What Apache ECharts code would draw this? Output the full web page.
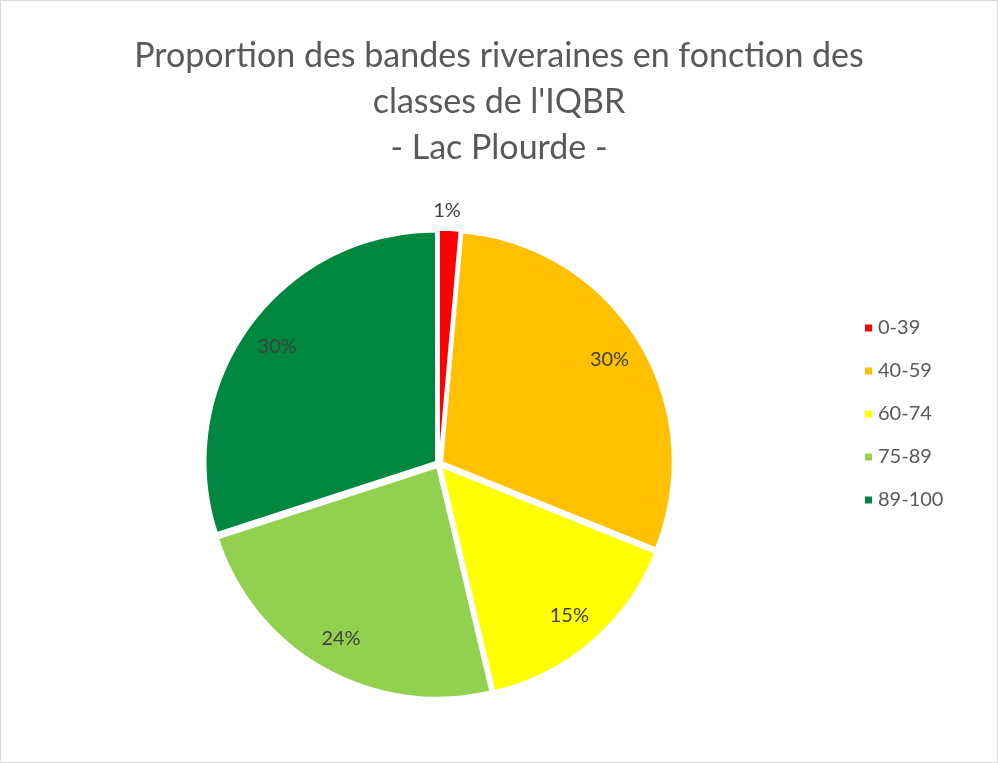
<!DOCTYPE html>
<html>
<head>
<meta charset="utf-8">
<title>Lac Plourde - IQBR</title>
<script src="https://cdn.jsdelivr.net/npm/echarts@6/dist/echarts.min.js"></script>
<style>
    html, body { margin: 0; padding: 0; background: #fff; }
    #chart { width: 998px; height: 763px; box-sizing: border-box; border: 1px solid #d9d9d9; }
</style>
</head>
<body>
<div id="chart"></div>
<script>
// classes de l'IQBR et proportion (%) des bandes riveraines
var classes = ['0-39', '40-59', '60-74', '75-89', '89-100'];
var valeurs = [1.4, 29.7, 15.2, 23.7, 30.0];
var couleurs = ['#FF0000', '#FFC000', '#FFFF00', '#92D050', '#00873F'];

var police = 'Lato';
var myChart = echarts.init(document.getElementById('chart'));

var donnees = classes.map(function (c, i) {
    return { name: c, value: valeurs[i], selected: true, itemStyle: { color: couleurs[i] } };
});

option = {
    animation: false,
    title: {
        text: "Proportion des bandes riveraines en fonction des\nclasses de l'IQBR\n- Lac Plourde -",
        left: 'center',
        top: 27,
        textStyle: {
            fontFamily: police,
            fontSize: 34,
            fontWeight: 'normal',
            color: '#595959',
            lineHeight: 46
        }
    },
    legend: {
        orient: 'vertical',
        left: 857,
        top: 312,
        itemWidth: 9,
        itemHeight: 9,
        itemGap: 23,
        icon: 'rect',
        selectedMode: false,
        data: classes,
        textStyle: { fontFamily: police, fontSize: 20, color: '#595959' }
    },
    series: [
        {
            // secteurs
            name: 'IQBR',
            type: 'pie',
            center: [438, 463],
            radius: [0, 230],
            startAngle: 90,
            clockwise: true,
            selectedMode: 'multiple',
            selectedOffset: 4,
            avoidLabelOverlap: false,
            itemStyle: { borderColor: '#fff', borderWidth: 1.5 },
            label: { show: false },
            labelLine: { show: false },
            emphasis: { disabled: true },
            // petite part : étiquette à l'extérieur, centrée au-dessus
            labelLayout: function (params) {
                return params.dataIndex === 0 ? { dx: -17 } : {};
            },
            data: donnees.map(function (d, i) {
                if (i === 0) {
                    d = Object.assign({}, d, {
                        label: {
                            show: true,
                            position: 'outside',
                            formatter: function (p) { return Math.round(p.value) + '%'; },
                            fontFamily: police,
                            fontSize: 20,
                            color: '#404040',
                            distanceToLabelLine: 0
                        },
                        labelLine: { show: false, length: 20, length2: 0 }
                    });
                }
                return d;
            })
        },
        {
            // étiquettes intérieures
            name: 'etiquettes',
            type: 'pie',
            center: [438, 463],
            radius: [164, 230],
            startAngle: 90,
            clockwise: true,
            silent: true,
            avoidLabelOverlap: false,
            itemStyle: { color: 'transparent' },
            label: {
                show: true,
                position: 'inside',
                formatter: function (p) { return p.dataIndex === 0 ? '' : Math.round(p.value) + '%'; },
                fontFamily: police,
                fontSize: 20,
                color: '#404040'
            },
            labelLine: { show: false },
            data: classes.map(function (c, i) { return { name: c, value: valeurs[i] }; })
        }
    ]
};
myChart.setOption(option);
</script>
</body>
</html>
